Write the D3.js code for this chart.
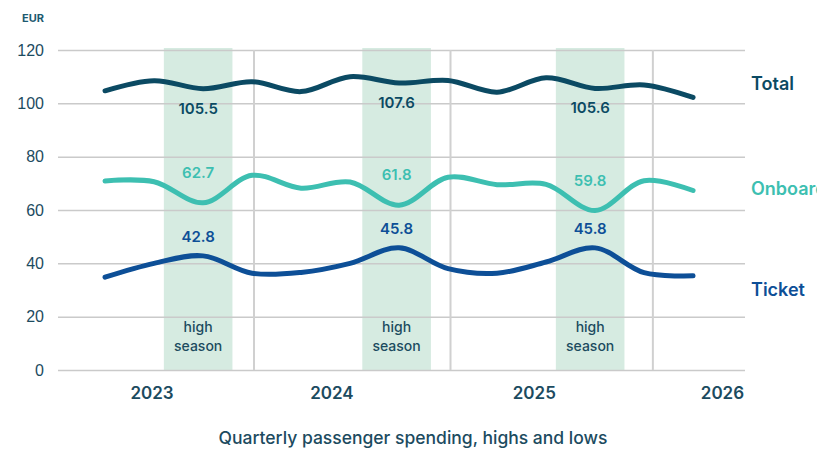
<!DOCTYPE html>
<html>
<head>
<meta charset="utf-8">
<script src="https://cdn.jsdelivr.net/npm/d3@7"></script>
<style>
  body { margin: 0; background: #fff; }
  svg { display: block; font-family: "Inter", "Lato", sans-serif; }
  .grid line { stroke: #cacaca; stroke-width: 1.5; }
  .grid .domain { display: none; }
  .axis text { fill: #1c4b5f; font-weight: 500; }
  .axis .domain, .axis line { display: none; }
</style>
</head>
<body>
<div class="chart"></div>
<script>
// quarterly points, index 0 = Q2 2023 ... 12 = Q2 2026
const quarters = d3.range(13);
const total = [104.7, 108.5, 105.5, 108.1, 104.4, 110.0, 107.6, 108.6, 104.2, 109.6, 105.6, 106.9, 102.2];
const onboard = [70.9, 70.6, 62.7, 73.0, 68.2, 70.5, 61.8, 72.3, 69.5, 69.6, 59.8, 71.0, 67.3];
const ticket = [34.8, 40.0, 42.8, 36.3, 36.6, 40.0, 45.8, 38.0, 36.3, 40.5, 45.8, 36.5, 35.3];

const seriesNames = ["Total", "Onboard", "Ticket"];
const seriesColors = ["#0b4a63", "#3dbfb1", "#0d4f97"];
const seriesLabelAt = [107.5, 68, 30];

// high season bands (quarter index of centre) and the value shown there
const seasonCenters = [1.9, 5.95, 9.9];
const seasonIdx = [2, 6, 10];
const yearDividers = [3.04, 7.05, 11.18];
const yearLabels = ["2023", "2024", "2025", "2026"];
const yearLabelAt = [0.96, 4.63, 8.76, 12.6];
const yTicks = [0, 20, 40, 60, 80, 100, 120];

const W = 817, H = 450;
const svg = d3.select(".chart").append("svg").attr("width", W).attr("height", H);

const x = d3.scaleLinear().domain([-0.96, 13.06]).range([58, 745]);
const y = d3.scaleLinear().domain([0, 120]).range([370, 50]);

// season bands
svg.append("g").selectAll("rect")
  .data(seasonCenters)
  .enter().append("rect")
  .attr("x", d => x(d - 0.7))
  .attr("width", d => x(d + 0.7) - x(d - 0.7))
  .attr("y", y(120) - 2)
  .attr("height", y(0) - y(120) + 2)
  .attr("fill", "#d6ebe1");

svg.append("g")
  .attr("class", "grid")
  .attr("transform", `translate(${x(-0.96)},0)`)
  .call(d3.axisLeft(y).tickValues(yTicks).tickSize(-(x(13.06) - x(-0.96))).tickFormat(""));

svg.append("g").selectAll("line")
  .data(yearDividers)
  .enter().append("line")
  .attr("x1", d => x(d)).attr("x2", d => x(d))
  .attr("y1", y(120)).attr("y2", y(0))
  .attr("stroke", "#d0d0d0").attr("stroke-width", 2);

// y labels
svg.append("g")
  .attr("class", "axis")
  .attr("transform", "translate(58,0)")
  .call(d3.axisLeft(y).tickValues(yTicks).tickSize(0).tickPadding(14))
  .selectAll("text").style("font-size", "16px");

svg.append("text")
  .attr("x", 22).attr("y", 22)
  .attr("fill", "#1d5a70")
  .style("font-size", "11px").style("font-weight", 700)
  .text("EUR");

// year labels
svg.append("g").selectAll("text")
  .data(yearLabels)
  .enter().append("text")
  .attr("x", (d, i) => x(yearLabelAt[i]))
  .attr("y", 399)
  .attr("text-anchor", "middle")
  .attr("fill", "#1c4b5f")
  .style("font-size", "17px").style("font-weight", 600)
  .text(d => d);

// high season text
const hs = svg.append("g").selectAll("text")
  .data(seasonCenters)
  .enter().append("text")
  .attr("text-anchor", "middle")
  .attr("fill", "#1c4b5f")
  .style("font-size", "14px").style("font-weight", 500);
hs.append("tspan").attr("x", d => x(d)).attr("y", 332).text("high");
hs.append("tspan").attr("x", d => x(d)).attr("y", 351).text("season");

const allSeries = [total, onboard, ticket];
const line = d3.line()
  .x((d, i) => x(quarters[i]))
  .y(d => y(d))
  .curve(d3.curveCatmullRom.alpha(0.5));

allSeries.forEach((vals, s) => {
  svg.append("path")
    .datum(vals)
    .attr("fill", "none")
    .attr("stroke", seriesColors[s])
    .attr("stroke-width", 5)
    .attr("stroke-linecap", "round")
    .attr("d", line);

  // season values: total below the line, others above
  const off = s === 0 ? 25 : (s === 1 ? -25 : -14);
  svg.append("g").selectAll("text")
    .data(seasonIdx)
    .enter().append("text")
    .attr("x", (d, i) => x(seasonCenters[i]))
    .attr("y", d => y(vals[d]) + off)
    .attr("text-anchor", "middle")
    .attr("fill", seriesColors[s])
    .style("font-size", "15px").style("font-weight", 600)
    .text(d => vals[d].toFixed(1));

  svg.append("text")
    .attr("x", 751)
    .attr("y", y(seriesLabelAt[s]))
    .attr("dy", "0.35em")
    .attr("fill", seriesColors[s])
    .style("font-size", "18px").style("font-weight", 600)
    .text(seriesNames[s]);
});

svg.append("text")
  .attr("x", 413).attr("y", 444)
  .attr("text-anchor", "middle")
  .attr("fill", "#1c4b5f")
  .style("font-size", "17.5px").style("font-weight", 500)
  .text("Quarterly passenger spending, highs and lows");
</script>
</body>
</html>
